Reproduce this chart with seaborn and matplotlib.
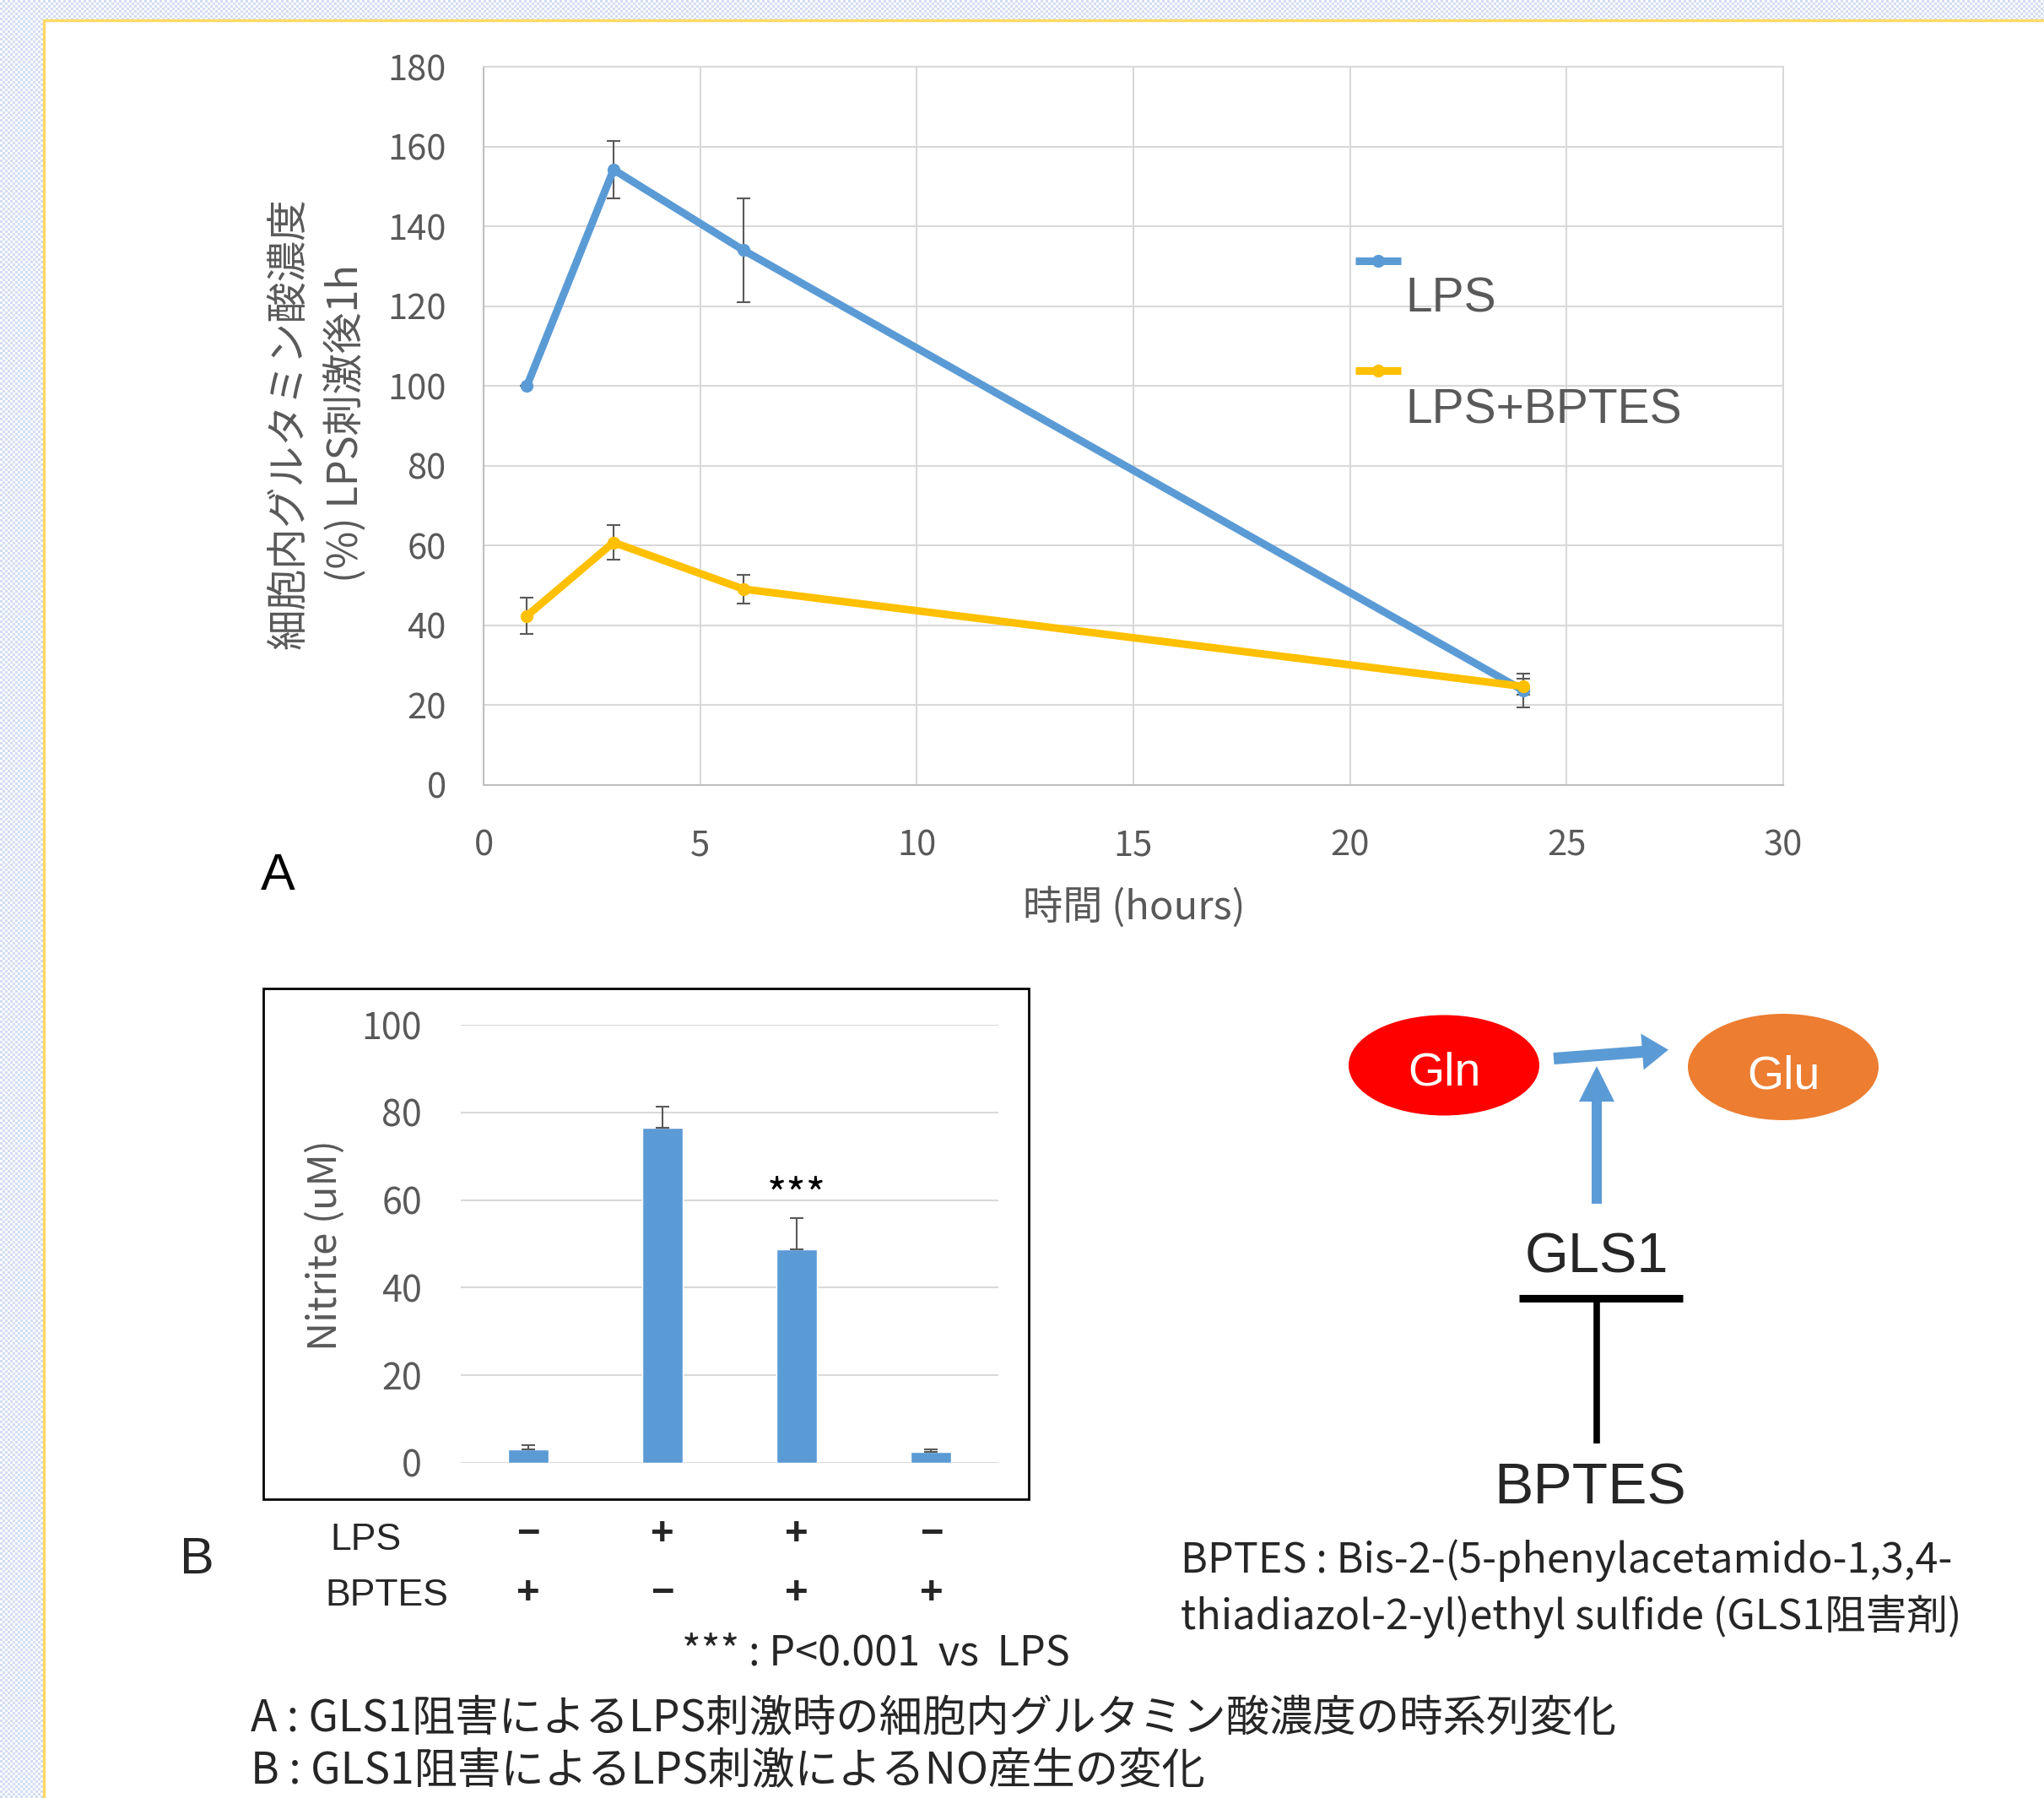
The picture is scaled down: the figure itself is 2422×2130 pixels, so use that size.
import seaborn as sns
import matplotlib.pyplot as plt
import matplotlib.transforms as mtransforms
import pandas as pd
import numpy as np
from matplotlib.patches import Rectangle, Ellipse, FancyArrow

# panel A: intracellular glutamate (% of LPS 1h)
hours = [1, 3, 6, 24]
lps = [100, 154.2, 134.0, 23.7]
lps_err = [0, 7.2, 13.0, 4.3]
lps_bptes = [42.4, 60.8, 49.1, 24.7]
lps_bptes_err = [4.5, 4.4, 3.6, 2.0]
series_names = ["LPS", "LPS+BPTES"]
y_ticks_a = [0, 20, 40, 60, 80, 100, 120, 140, 160, 180]
x_ticks_a = [0, 5, 10, 15, 20, 25, 30]

# panel B: nitrite
groups = ["g1", "g2", "g3", "g4"]
nitrite = [3.1, 76.5, 48.8, 2.6]
nitrite_err = [0.9, 4.9, 7.1, 0.4]
lps_row = ["−", "+", "+", "−"]
bptes_row = ["+", "−", "+", "+"]
y_ticks_b = [0, 20, 40, 60, 80, 100]

W, H = 2422, 2130
GRAY = "#595959"
JP = ["Noto Sans CJK JP", "DejaVu Sans"]
LAT = ["Liberation Sans", "DejaVu Sans"]

sns.set_theme(style="white")
plt.rcParams['font.family'] = JP

fig = plt.figure(figsize=(W / 100, H / 100), dpi=100)

# background layer in pixel coords
bg = fig.add_axes([0, 0, 1, 1], zorder=0)
bg.axis("off")
cell = 3
yy, xx = np.mgrid[0:H // cell + 1, 0:W // cell + 1]
chk = ((xx + yy) % 2).astype(float)
c1 = np.array([1.0, 1.0, 1.0])
c2 = np.array([0.82, 0.87, 0.96])
img = c1 * (1 - chk[..., None]) + c2 * chk[..., None]
bg.imshow(img, extent=(0, (W // cell + 1) * cell, (H // cell + 1) * cell, 0),
          interpolation="nearest", aspect="auto", zorder=0)
bg.add_patch(Rectangle((52, 24), W, H, facecolor="white", edgecolor="none", zorder=1))
bg.plot([52, W], [24, 24], color="#FFD966", lw=2.5, zorder=2)
bg.plot([52, 52], [24, H], color="#FFD966", lw=2.5, zorder=2)
bg.add_patch(Rectangle((312, 1171), 907, 605, facecolor="white", edgecolor="black",
                       lw=2, zorder=3))
bg.set_xlim(0, W)
bg.set_ylim(H, 0)

# ---------------- panel A ----------------
axA = fig.add_axes([573 / W, 1 - 930 / H, 1540 / W, 851 / H], zorder=2)
dfA = pd.DataFrame({
    "hours": hours * 2,
    "value": lps + lps_bptes,
    "group": [series_names[0]] * 4 + [series_names[1]] * 4,
})
pal = {"LPS": "#5B9BD5", "LPS+BPTES": "#FFC000"}
axA.errorbar(hours, lps, yerr=lps_err, fmt="none", ecolor=GRAY, elinewidth=1.5,
             capsize=5.5, capthick=1.5, zorder=2)
axA.errorbar(hours, lps_bptes, yerr=lps_bptes_err, fmt="none", ecolor=GRAY,
             elinewidth=1.5, capsize=5.5, capthick=1.5, zorder=2)
sns.lineplot(data=dfA, x="hours", y="value", hue="group", palette=pal, marker="o",
             markersize=11, markeredgewidth=0, linewidth=6.5, legend=False, ax=axA, zorder=3)
axA.set_xlim(0, 30)
axA.set_ylim(0, 180)
axA.set_xticks(x_ticks_a)
axA.set_yticks(y_ticks_a)
axA.grid(True, color="#D9D9D9", lw=1.5)
axA.set_axisbelow(True)
for s in ["top", "right"]:
    axA.spines[s].set_color("#D9D9D9")
    axA.spines[s].set_linewidth(1.5)
for s in ["left", "bottom"]:
    axA.spines[s].set_color("#BFBFBF")
    axA.spines[s].set_linewidth(1.5)
axA.tick_params(axis="both", length=0, labelsize=30, labelcolor=GRAY)
axA.tick_params(axis="y", pad=32)
axA.tick_params(axis="x", pad=37)
axA.set_xlabel("")
axA.set_ylabel("")

# ---------------- panel B ----------------
axB = fig.add_axes([546 / W, 1 - 1733 / H, 637 / W, 519 / H], zorder=3)
axB.patch.set_alpha(0)
dfB = pd.DataFrame({"group": groups, "nitrite": nitrite})
sns.barplot(data=dfB, x="group", y="nitrite", color="#5B9BD5", saturation=1,
            width=0.3, ax=axB, zorder=3)
axB.errorbar(range(len(groups)), nitrite, yerr=[np.zeros(len(groups)), nitrite_err],
             fmt="none", ecolor=GRAY, elinewidth=1.5, capsize=6, capthick=1.5, zorder=4)
axB.set_xlim(-0.5, 3.5)
axB.set_ylim(0, 100)
axB.set_yticks(y_ticks_b)
axB.grid(True, axis="y", color="#D9D9D9", lw=1.5)
axB.set_axisbelow(True)
sns.despine(ax=axB, left=True, bottom=True)
axB.set_xticks([])
axB.set_xlabel("")
axB.set_ylabel("")
axB.tick_params(axis="y", length=0, labelsize=31, labelcolor=GRAY, pad=33)
axB.text(2, 60.5, "***", fontsize=36, ha="center", va="center", color="black", zorder=5)

# foreground layer for annotations, in pixel coords
fg = fig.add_axes([0, 0, 1, 1], zorder=10)
fg.axis("off")
fg.patch.set_alpha(0)
fg.set_xlim(0, W)
fg.set_ylim(H, 0)

# legend (Excel-like: marker line above, text offset below)
for name, ly, ty in [("LPS", 309, 355), ("LPS+BPTES", 439, 486)]:
    fg.plot([1606, 1660], [ly, ly], color=pal[name], lw=6.5, solid_capstyle="butt")
    fg.plot([1633], [ly], marker="o", ms=11, mew=0, color=pal[name])
    fg.text(1665, ty, name, fontsize=41, color=GRAY, family=LAT, va="center", ha="left")

fg.text(343, 502, "細胞内グルタミン酸濃度", rotation=90, fontsize=35, color=GRAY,
        ha="center", va="center")
fg.text(409, 502, "(%) LPS刺激後1h", rotation=90, fontsize=35, color=GRAY,
        ha="center", va="center")
fg.text(1344, 1075, "時間 (hours)", fontsize=34, color=GRAY, ha="center", va="center")
fg.text(329, 1038, "A", fontsize=44, family=LAT, color="black", ha="center", va="center")

fg.text(386, 1475, "Nitrite (uM)", rotation=90, fontsize=34, color=GRAY,
        ha="center", va="center")
blend = mtransforms.blended_transform_factory(axB.transData, fg.transData)
for i in range(len(groups)):
    fg.text(i, 1818, lps_row[i], transform=blend, fontsize=34, family=LAT, fontweight="bold",
            ha="center", va="center")
    fg.text(i, 1888, bptes_row[i], transform=blend, fontsize=34, family=LAT, fontweight="bold",
            ha="center", va="center")
fg.text(391, 1824, "LPS", fontsize=32, family=LAT, ha="left", va="center")
fg.text(385, 1891, "BPTES", fontsize=32, family=LAT, ha="left", va="center")
fg.text(233, 1849, "B", fontsize=44, family=LAT, ha="center", va="center")
fg.text(808, 1959, "*** : P<0.001  vs  LPS", fontsize=35, ha="left", va="center")

# ---------------- diagram ----------------
fg.add_patch(Ellipse((1711, 1262), 226, 119, facecolor="#FF0000", edgecolor="none"))
fg.add_patch(Ellipse((2113, 1264), 226, 126, facecolor="#ED7D31", edgecolor="none"))
fg.text(1711, 1272, "Gln", fontsize=40, family=LAT, color="white", ha="center", va="center")
fg.text(2113, 1275, "Glu", fontsize=40, family=LAT, color="white", ha="center", va="center")
fg.add_patch(FancyArrow(1841, 1254, 105, -8, width=14, head_width=43, head_length=31,
                        length_includes_head=False, color="#5B9BD5", lw=0))
fg.add_patch(FancyArrow(1892, 1426, 0, -121, width=12, head_width=42, head_length=42,
                        length_includes_head=False, color="#5B9BD5", lw=0))
fg.text(1892, 1490, "GLS1", fontsize=48, family=LAT, ha="center", va="center")
fg.plot([1800, 1994], [1538, 1538], color="black", lw=6.5, solid_capstyle="butt")
fg.plot([1892, 1892], [1538, 1710], color="black", lw=5.5, solid_capstyle="butt")
fg.text(1884, 1763, "BPTES", fontsize=50, family=LAT, ha="center", va="center")
fg.text(1399, 1849, "BPTES : Bis-2-(5-phenylacetamido-1,3,4-", fontsize=35,
        ha="left", va="center")
fg.text(1399, 1915, "thiadiazol-2-yl)ethyl sulfide (GLS1阻害剤)", fontsize=35,
        ha="left", va="center")

# ---------------- captions ----------------
fg.text(297, 2036, "A : GLS1阻害によるLPS刺激時の細胞内グルタミン酸濃度の時系列変化",
        fontsize=37, ha="left", va="center")
fg.text(297, 2098, "B : GLS1阻害によるLPS刺激によるNO産生の変化",
        fontsize=37, ha="left", va="center")

fig.savefig("out.png", dpi=100)
